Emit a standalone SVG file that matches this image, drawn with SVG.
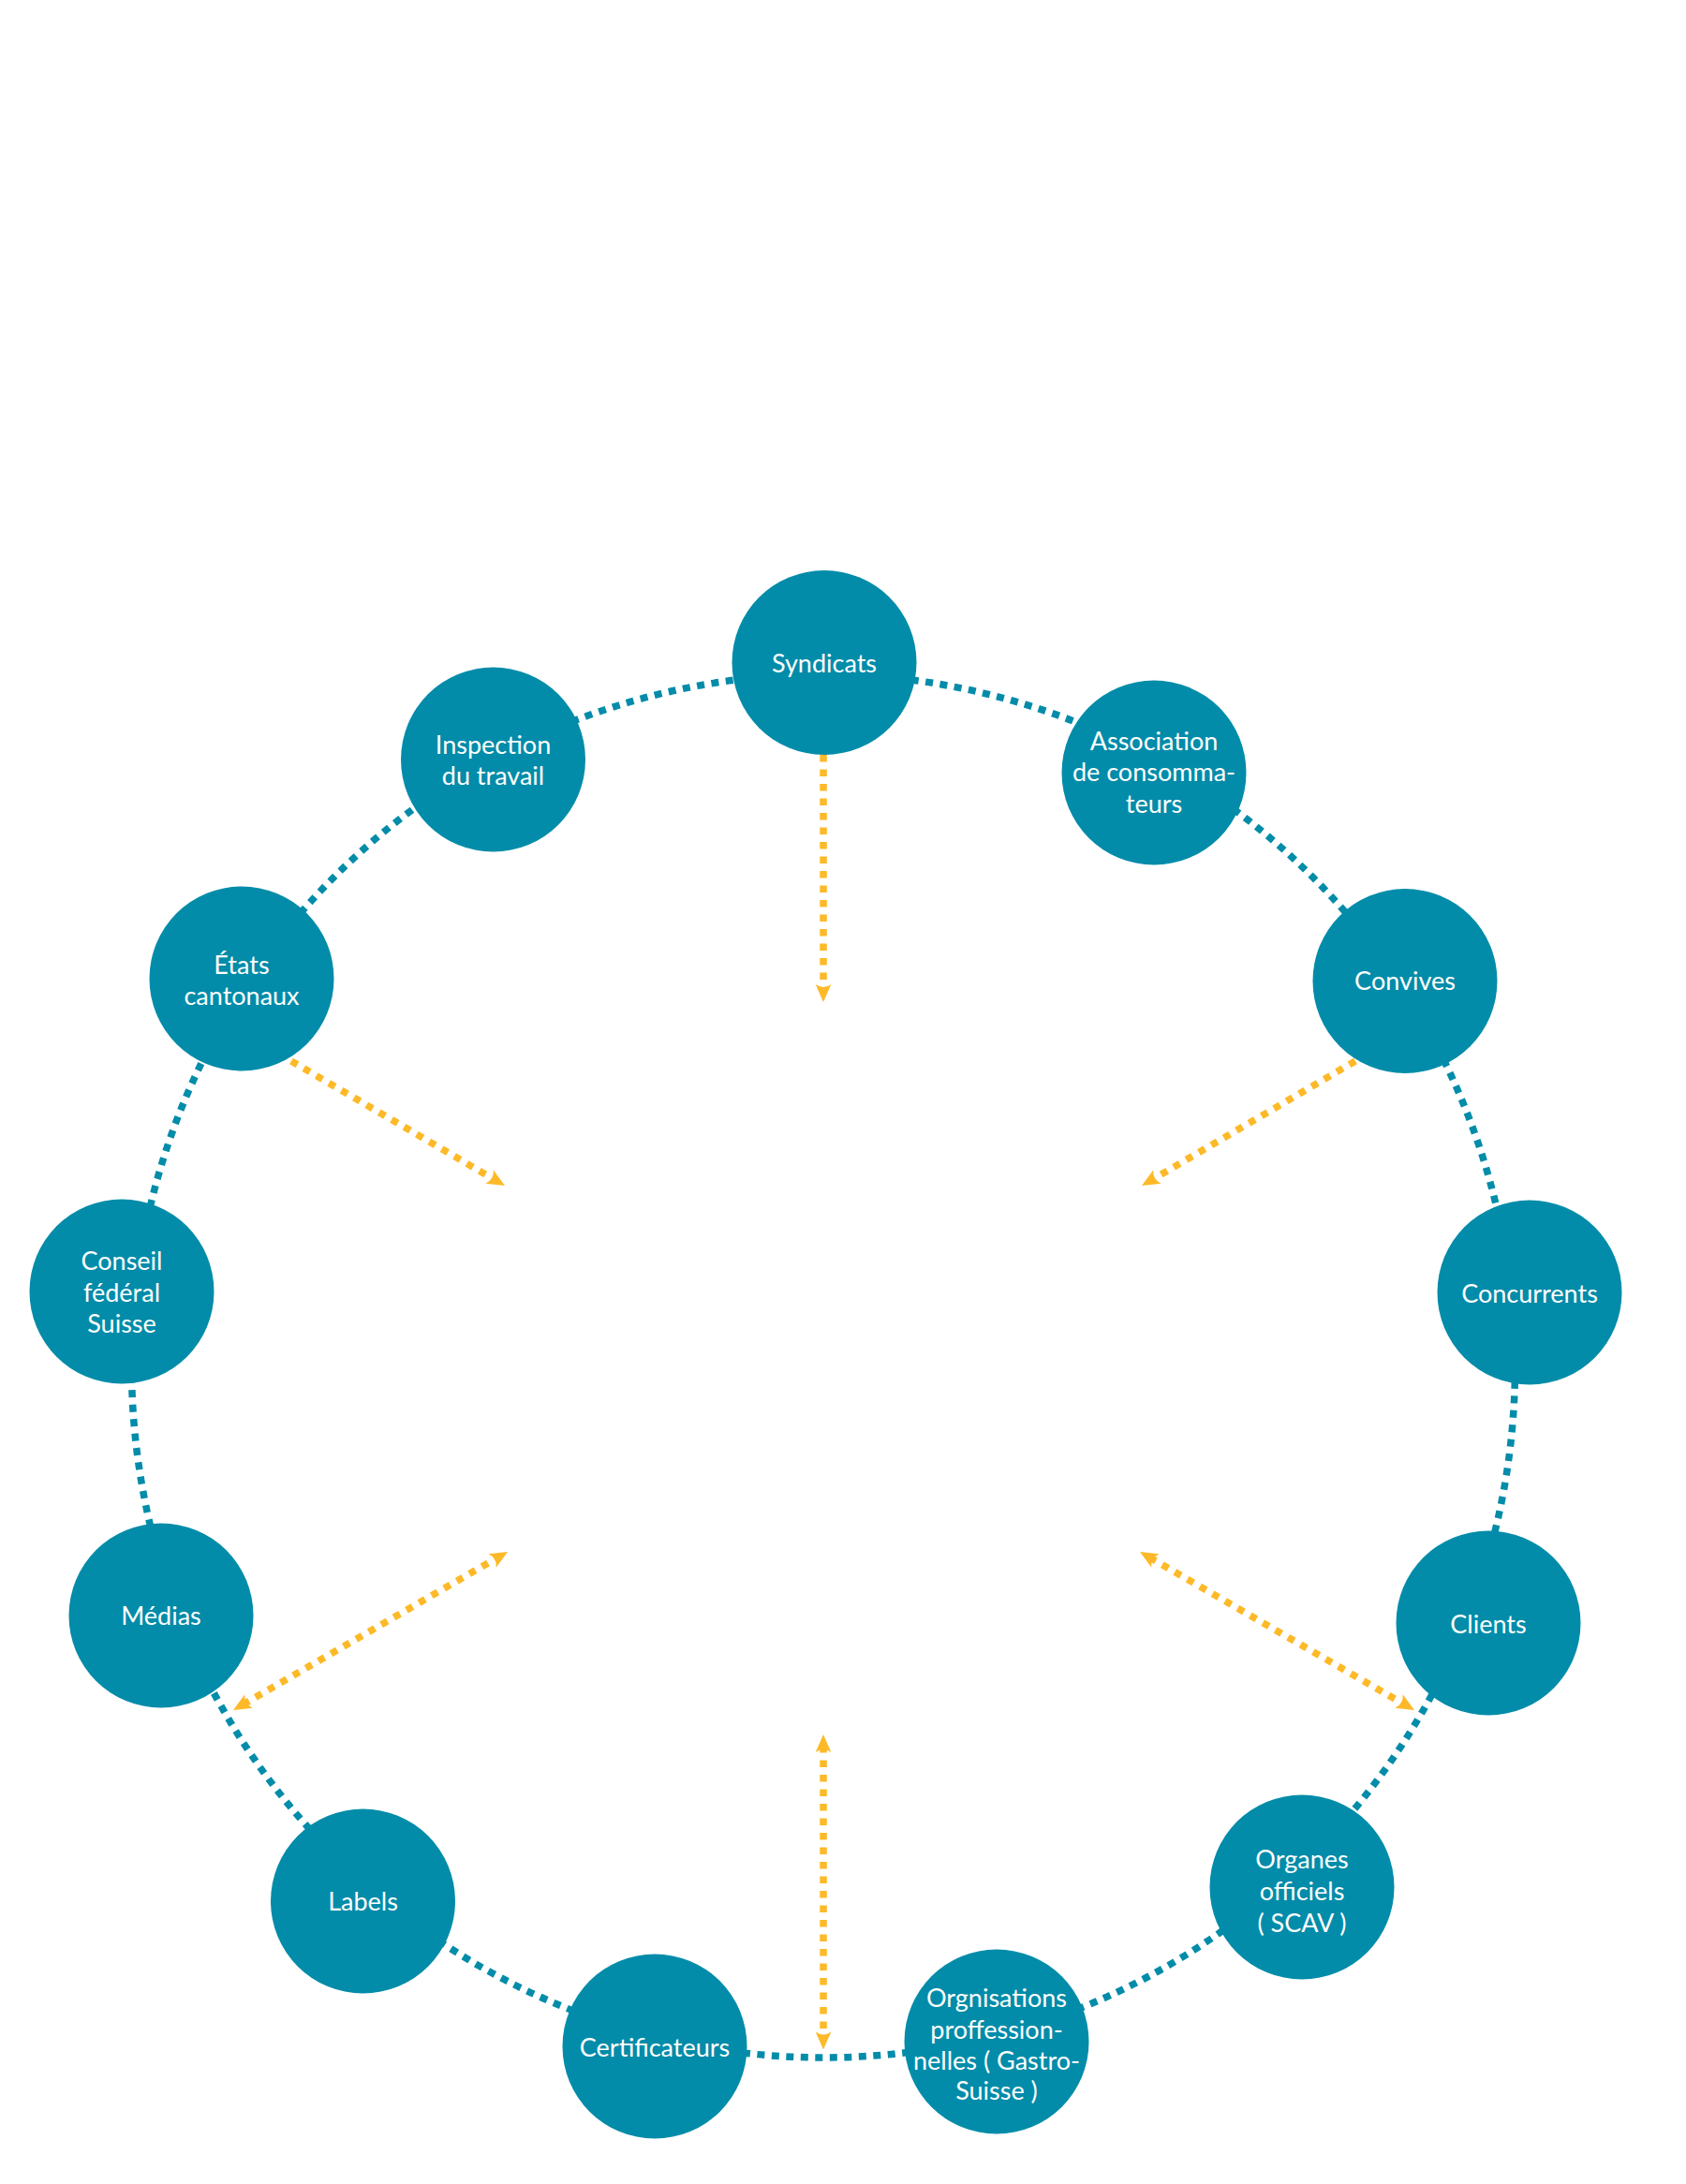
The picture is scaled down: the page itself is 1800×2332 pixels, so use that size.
<svg xmlns="http://www.w3.org/2000/svg" width="1800" height="2332" viewBox="0 0 1800 2332">
<style>
.node{fill:#028CA9}
.lbl{font-family:Lato,"Open Sans","DejaVu Sans",sans-serif;font-size:27px;fill:#FFFFFF;text-anchor:middle}
.ring{fill:none;stroke:#028CA9;stroke-width:7.5;stroke-dasharray:8 7.5}
.flow{fill:none;stroke:#FDB927;stroke-width:7.5;stroke-dasharray:7.5 8}
</style>
<defs>
<marker id="ah" markerUnits="userSpaceOnUse" orient="auto-start-reverse" refX="0" refY="0" markerWidth="40" markerHeight="40" overflow="visible">
<path d="M12,0 L-7,-8.3 Q-1,0 -7,8.3 Z" fill="#FDB927"/>
</marker>
</defs>
<rect x="0" y="0" width="1800" height="2332" fill="#FFFFFF"/>
<g id="connectors">
<path class="ring" d="M880,720 A738.5,738.5 0 0 1 1238.5,813.4"/>
<path class="ring" d="M1238.5,813.4 A738.5,738.5 0 0 1 1494.8,1050.9"/>
<path class="ring" d="M1494.8,1050.9 A738.5,738.5 0 0 1 1613.5,1382"/>
<path class="ring" d="M1613.5,1382 A738.5,738.5 0 0 1 1567.8,1724.8"/>
<path class="ring" d="M1567.8,1724.8 A738.5,738.5 0 0 1 1378.5,2002.5"/>
<path class="ring" d="M1378.5,2002.5 A738.5,738.5 0 0 1 1062.4,2173.9"/>
<path class="ring" d="M1062.4,2173.9 A738.5,738.5 0 0 1 701.4,2175.3"/>
<path class="ring" d="M701.4,2175.3 A738.5,738.5 0 0 1 397.5,2018.4"/>
<path class="ring" d="M397.5,2018.4 A738.5,738.5 0 0 1 188,1719"/>
<path class="ring" d="M188,1719 A738.5,738.5 0 0 1 144.6,1380.5"/>
<path class="ring" d="M144.6,1380.5 A738.5,738.5 0 0 1 264.3,1049.2"/>
<path class="ring" d="M264.3,1049.2 A738.5,738.5 0 0 1 525.9,809.9"/>
<path class="ring" d="M525.9,809.9 A738.5,738.5 0 0 1 880,720"/>
<path class="flow" d="M879,806 L879,1058" marker-end="url(#ah)"/>
<path class="flow" d="M311,1133 L528.6,1260" marker-end="url(#ah)"/>
<path class="flow" d="M1447,1133 L1229.4,1260" marker-end="url(#ah)"/>
<path class="flow" d="M259.4,1820 L531.6,1663" marker-start="url(#ah)" marker-end="url(#ah)"/>
<path class="flow" d="M1227.4,1663 L1499.6,1820" marker-start="url(#ah)" marker-end="url(#ah)"/>
<path class="flow" d="M879,1864 L879,2176.5" marker-start="url(#ah)" marker-end="url(#ah)"/>
</g>
<g id="syndicats"><circle class="node" cx="880" cy="707.5" r="98.5"/><text class="lbl" x="880" y="717.5">Syndicats</text></g>
<g id="association"><circle class="node" cx="1232" cy="825" r="98.5"/><text class="lbl" x="1232" y="800.5">Association</text><text class="lbl" x="1232" y="834">de consomma-</text><text class="lbl" x="1232" y="867.5">teurs</text></g>
<g id="convives"><circle class="node" cx="1500" cy="1047.5" r="98.5"/><text class="lbl" x="1500" y="1057">Convives</text></g>
<g id="concurrents"><circle class="node" cx="1633" cy="1380" r="98.5"/><text class="lbl" x="1633" y="1391">Concurrents</text></g>
<g id="clients"><circle class="node" cx="1589" cy="1733" r="98.5"/><text class="lbl" x="1589" y="1744">Clients</text></g>
<g id="organes"><circle class="node" cx="1390" cy="2015" r="98.5"/><text class="lbl" x="1390" y="1995">Organes</text><text class="lbl" x="1390" y="2029">officiels</text><text class="lbl" x="1390" y="2062.5">( SCAV )</text></g>
<g id="orgnisations"><circle class="node" cx="1064" cy="2180" r="98.5"/><text class="lbl" x="1064" y="2143">Orgnisations</text><text class="lbl" x="1064" y="2177">proffession-</text><text class="lbl" x="1064" y="2210">nelles ( Gastro-</text><text class="lbl" x="1064" y="2242">Suisse )</text></g>
<g id="certificateurs"><circle class="node" cx="699" cy="2185" r="98.5"/><text class="lbl" x="699" y="2196">Certificateurs</text></g>
<g id="labels"><circle class="node" cx="387.5" cy="2030" r="98.5"/><text class="lbl" x="387.5" y="2039.5">Labels</text></g>
<g id="medias"><circle class="node" cx="172" cy="1725" r="98.5"/><text class="lbl" x="172" y="1735">Médias</text></g>
<g id="conseil"><circle class="node" cx="130" cy="1379" r="98.5"/><text class="lbl" x="130" y="1356">Conseil</text><text class="lbl" x="130" y="1389.5">fédéral</text><text class="lbl" x="130" y="1423">Suisse</text></g>
<g id="etats"><circle class="node" cx="258" cy="1045" r="98.5"/><text class="lbl" x="258" y="1040">États</text><text class="lbl" x="258" y="1073">cantonaux</text></g>
<g id="inspection"><circle class="node" cx="526.5" cy="811" r="98.5"/><text class="lbl" x="526.5" y="804.5">Inspection</text><text class="lbl" x="526.5" y="838">du travail</text></g>
</svg>
